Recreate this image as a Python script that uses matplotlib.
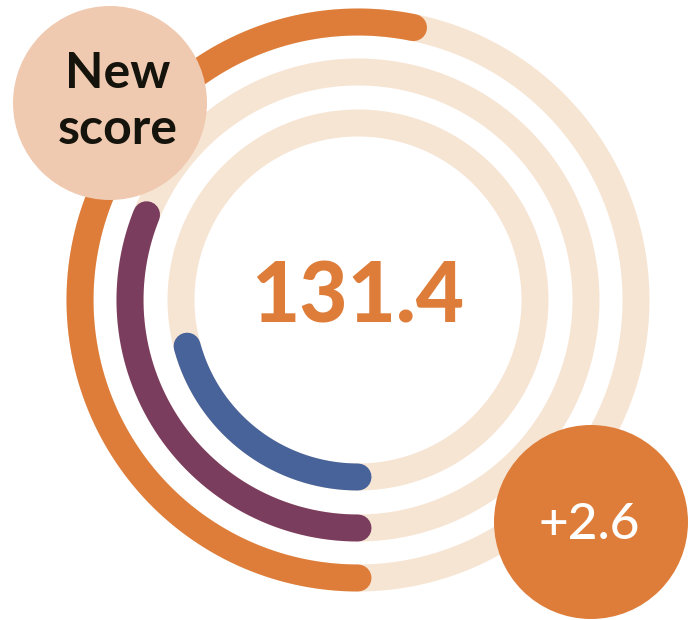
import numpy as np
import matplotlib
matplotlib.use("Agg")
import matplotlib.pyplot as plt
from matplotlib.patches import Circle

# Data
ring_names = ["Outer", "Middle", "Inner"]
ring_values = [53.2, 31.1, 20.8]          # percent of full circle
ring_colors = ["#DE7D3A", "#7B3D5E", "#47639A"]
track_color = "#F7E5D4"
center_value = "131.4"
badge_new = "New\nscore"
badge_change = "+2.6"

W, H = 692, 620
fig = plt.figure(figsize=(W / 100, H / 100), dpi=100)
ax = fig.add_axes([0, 0, 1, 1])
ax.set_xlim(0, W)
ax.set_ylim(H, 0)
ax.set_aspect("equal")
ax.axis("off")

cx, cy = 358, 300
radii = [278, 228, 177]
lw = 27 * 0.72  # px -> pt

for r, v, c in zip(radii, ring_values, ring_colors):
    t = np.linspace(0, 2 * np.pi, 600)
    ax.plot(cx - r * np.sin(t), cy + r * np.cos(t), color=track_color, lw=lw,
            solid_capstyle="butt", zorder=1)
    t = np.linspace(0, 2 * np.pi * v / 100, 400)
    ax.plot(cx - r * np.sin(t), cy + r * np.cos(t), color=c, lw=lw,
            solid_capstyle="round", zorder=2)

ax.text(cx, cy - 2, center_value, ha="center", va="center", fontsize=60,
        family="Lato", fontweight="black", color="#DE7D3A", zorder=3)

ax.add_patch(Circle((110, 103), 97, color="#F0CAB0", zorder=4, lw=0))
ax.text(118, 73, "New", ha="center", va="center", fontsize=36,
        family="Lato", fontweight="bold", color="#14130C", zorder=5)
ax.text(118, 130, "score", ha="center", va="center", fontsize=36,
        family="Lato", fontweight="bold", color="#14130C", zorder=5)

ax.add_patch(Circle((591, 522), 97, color="#DE7D3A", zorder=4, lw=0))
ax.text(589, 525, badge_change, ha="center", va="center", fontsize=37,
        family="Lato", fontweight="medium", color="white", zorder=5)

fig.savefig("out.png", dpi=100)
